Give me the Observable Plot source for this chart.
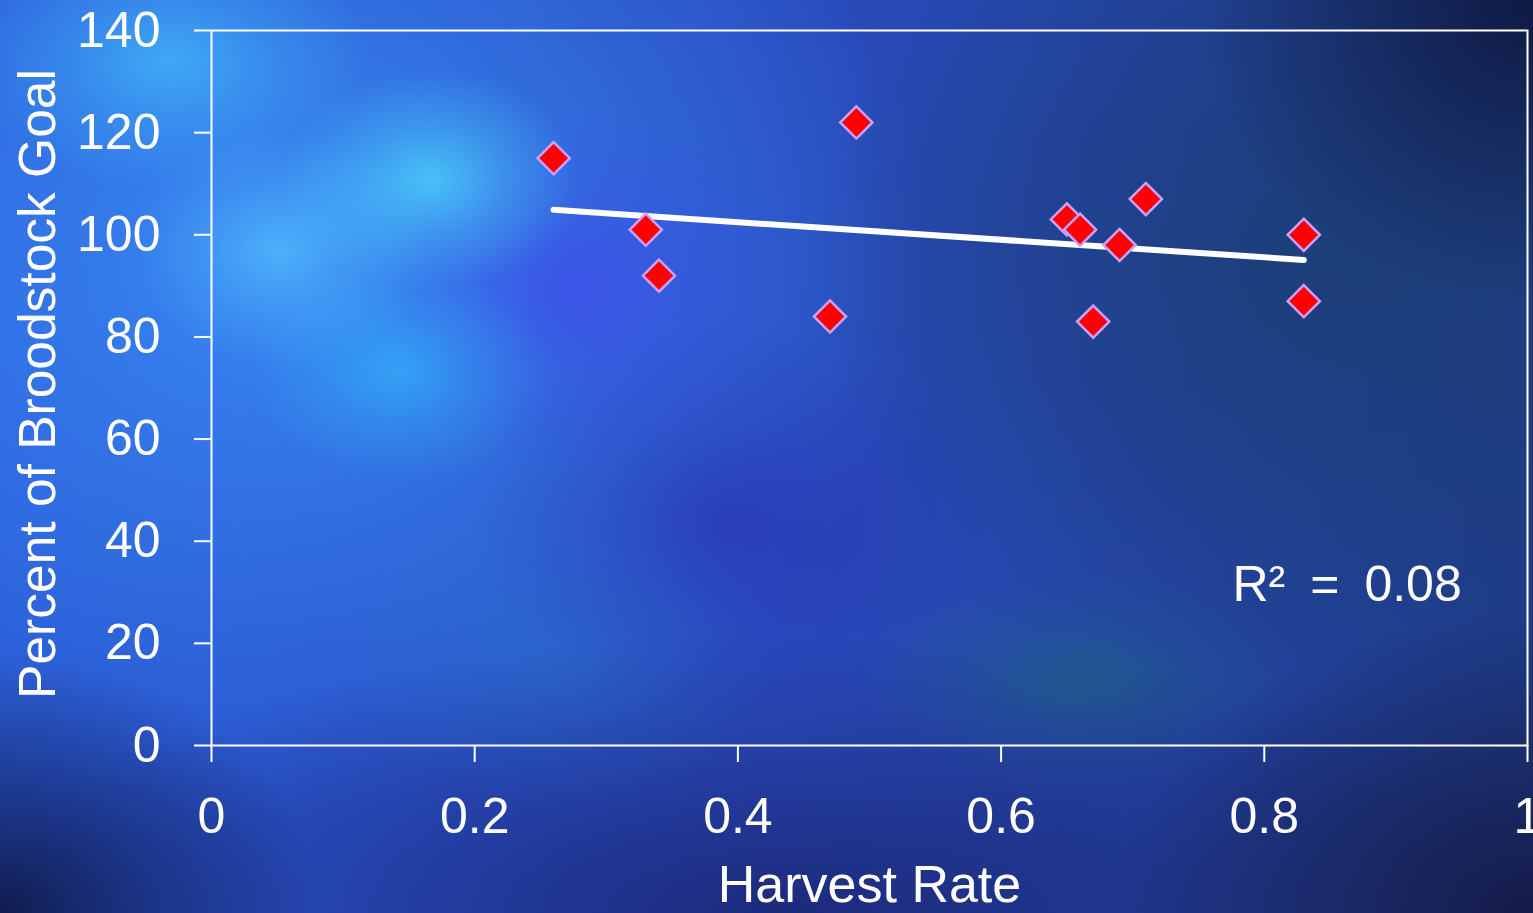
<!DOCTYPE html>
<html>
<head>
<meta charset="utf-8">
<script src="https://cdn.jsdelivr.net/npm/d3@7"></script>
<script src="https://cdn.jsdelivr.net/npm/@observablehq/plot@0.6"></script>
<style>
  html, body { margin: 0; padding: 0; width: 1533px; height: 913px; overflow: hidden; }
  body {
    background:
      radial-gradient(ellipse 320px 260px at 0px 913px, rgba(12,18,55,0.85), rgba(12,18,55,0.4) 50%, rgba(12,18,55,0) 100%),
      radial-gradient(ellipse 340px 300px at 1533px 0px, rgba(14,22,60,0.9), rgba(14,22,60,0.4) 55%, rgba(14,22,60,0) 100%),
      radial-gradient(ellipse 420px 300px at 1533px 913px, rgba(20,22,62,0.85), rgba(20,22,62,0.4) 55%, rgba(20,22,62,0) 100%),
      radial-gradient(ellipse 150px 110px at 430px 180px, rgba(80,225,255,0.7), rgba(80,225,255,0.3) 50%, rgba(80,225,255,0) 100%),
      radial-gradient(ellipse 150px 120px at 280px 250px, rgba(90,205,255,0.6), rgba(90,205,255,0.25) 50%, rgba(90,205,255,0) 100%),
      radial-gradient(ellipse 150px 110px at 400px 370px, rgba(50,190,255,0.6), rgba(50,190,255,0.25) 50%, rgba(50,190,255,0) 100%),
      radial-gradient(ellipse 200px 130px at 170px 60px, rgba(70,205,255,0.6), rgba(70,205,255,0.25) 50%, rgba(70,205,255,0) 100%),
      radial-gradient(ellipse 220px 110px at 1080px 680px, rgba(30,105,120,0.55), rgba(30,105,120,0.2) 50%, rgba(30,105,120,0) 100%),
      radial-gradient(ellipse 220px 180px at 580px 290px, rgba(70,60,240,0.5), rgba(70,60,240,0.2) 50%, rgba(70,60,240,0) 100%),
      radial-gradient(ellipse 260px 200px at 730px 520px, rgba(40,40,170,0.5), rgba(40,40,170,0.2) 50%, rgba(40,40,170,0) 100%),
      radial-gradient(ellipse 220px 160px at 560px 650px, rgba(40,120,200,0.35), rgba(40,120,200,0) 100%),
      radial-gradient(ellipse 520px 420px at 1330px 260px, rgba(28,62,115,0.85), rgba(28,62,115,0.4) 55%, rgba(28,62,115,0) 100%),
      radial-gradient(ellipse 800px 280px at 780px 913px, rgba(26,36,112,0.85), rgba(26,36,112,0.35) 55%, rgba(26,36,112,0) 100%),
      radial-gradient(ellipse 650px 560px at 280px 260px, rgba(60,150,255,0.75), rgba(60,150,255,0.35) 55%, rgba(60,150,255,0) 100%),
      linear-gradient(90deg, #2a58d4 0%, #2a4cc0 50%, #1e3c88 100%);
    font-family: "Liberation Sans", Arial, sans-serif;
  }
  #chart { position: absolute; left: 0; top: 0; }
</style>
</head>
<body>
<div id="chart"></div>
<script>
// Data
const harvestRate = [0.26, 0.33, 0.34, 0.47, 0.49, 0.65, 0.66, 0.67, 0.69, 0.71, 0.83, 0.83];
const broodstockPct = [115, 101, 92, 84, 122, 103, 101, 83, 98, 107, 100, 87];
const xTicks = [0, 0.2, 0.4, 0.6, 0.8, 1];
const xTickLabels = ["0", "0.2", "0.4", "0.6", "0.8", "1"];
const yTicks = [0, 20, 40, 60, 80, 100, 120, 140];
const xLabel = "Harvest Rate";
const yLabel = "Percent of Broodstock Goal";

const points = harvestRate.map((x, i) => ({x, y: broodstockPct[i]}));

// R² from the data
const mx = d3.mean(harvestRate), my = d3.mean(broodstockPct);
let sxy = 0, sxx = 0, syy = 0;
points.forEach(p => { sxy += (p.x - mx) * (p.y - my); sxx += (p.x - mx) ** 2; syy += (p.y - my) ** 2; });
const r2 = (sxy * sxy) / (sxx * syy);
const r2Label = [{x: 0.95, y: 31.5, text: "R\u00B2\u2002=\u2002" + r2.toFixed(2)}];

const font = "Liberation Sans, Arial, sans-serif";

const chart = Plot.plot({
  width: 1533,
  height: 913,
  marginLeft: 211,
  marginRight: 6,
  marginTop: 30,
  marginBottom: 168,
  style: {background: "transparent", color: "white", fontFamily: font, fontSize: "50px", overflow: "visible"},
  x: {domain: [0, 1], ticks: xTicks, tickFormat: (d, i) => xTickLabels[xTicks.indexOf(d)]},
  y: {domain: [0, 140], ticks: yTicks},
  marks: [
    Plot.frame({stroke: "white", strokeWidth: 2, strokeOpacity: 1}),
    Plot.axisX({ticks: xTicks, tickFormat: d => xTickLabels[xTicks.indexOf(d)], tickSize: 17, tickPadding: 35, stroke: "white", strokeWidth: 2, strokeOpacity: 1, fill: "white", fontSize: 50, label: null}),
    Plot.axisY({ticks: yTicks, tickSize: 17, tickPadding: 34, stroke: "white", strokeWidth: 2, strokeOpacity: 1, fill: "white", fontSize: 50, label: null}),
    Plot.text([yLabel], {frameAnchor: "left", rotate: -90, dx: -173, dy: -4, text: d => d, fill: "white", fontSize: 51.5, textAnchor: "middle", lineAnchor: "middle"}),
    Plot.text([xLabel], {frameAnchor: "bottom", dy: 140, text: d => d, fill: "white", fontSize: 52, textAnchor: "middle", lineAnchor: "middle"}),
    Plot.linearRegressionY(points, {x: "x", y: "y", ci: 0, stroke: "white", strokeWidth: 6, strokeLinecap: "round"}),
    Plot.dot(points, {x: "x", y: "y", symbol: "diamond2", r: 14.5, fill: "#ff0000", stroke: "#c9a0ff", strokeWidth: 2.5}),
    Plot.text(r2Label, {x: "x", y: "y", text: "text", fill: "white", fontSize: 50, textAnchor: "end", lineAnchor: "middle"})
  ]
});
document.getElementById("chart").appendChild(chart);
</script>
</body>
</html>
